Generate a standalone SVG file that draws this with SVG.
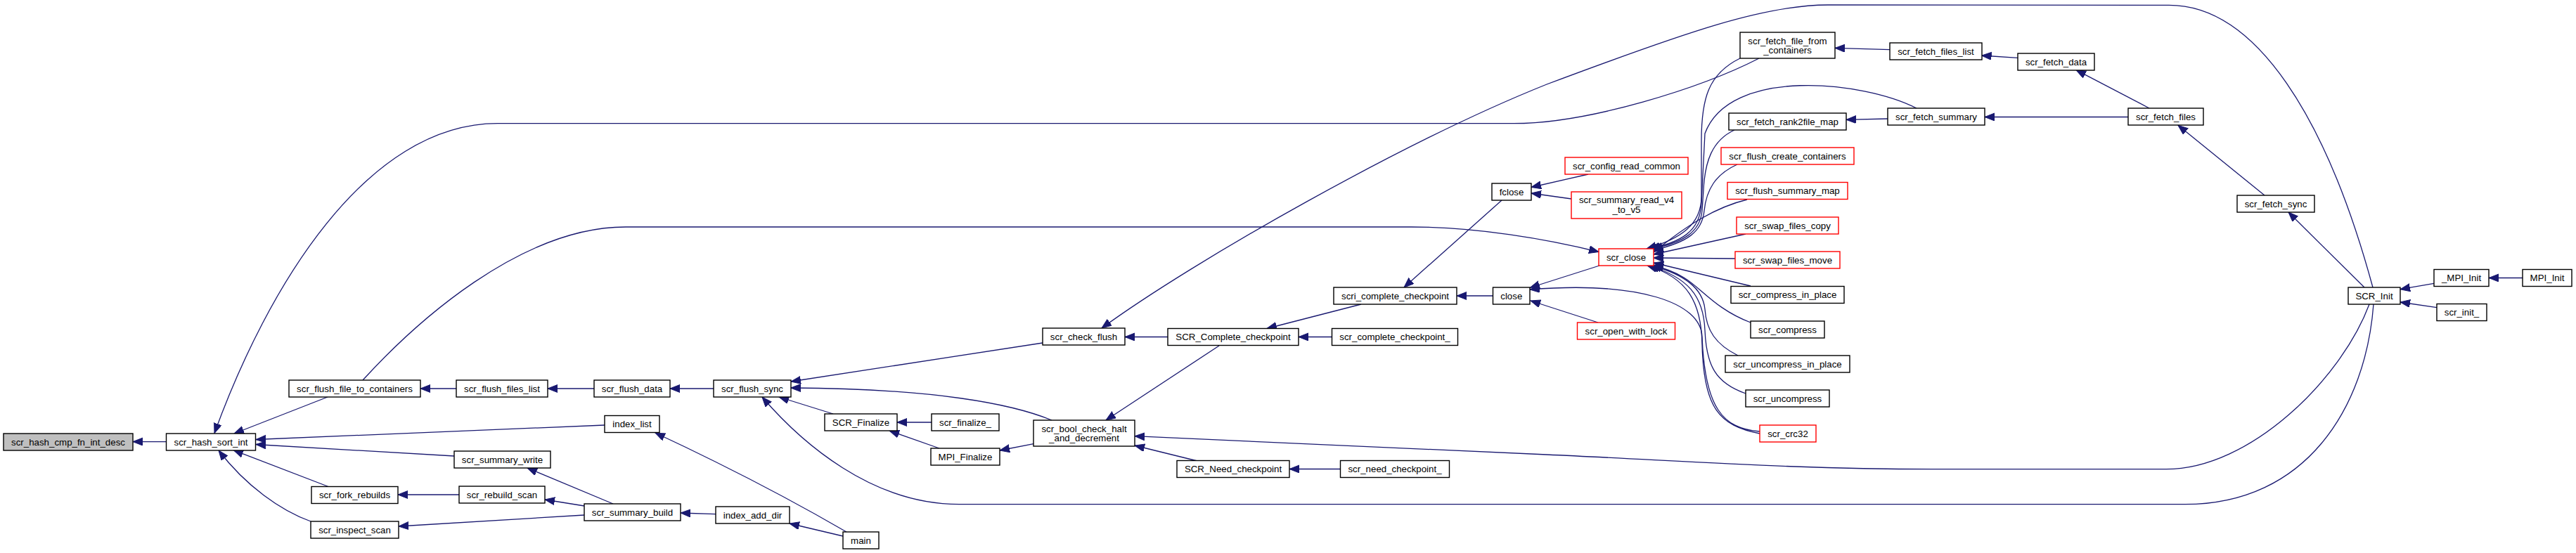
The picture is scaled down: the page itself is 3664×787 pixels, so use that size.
<svg xmlns="http://www.w3.org/2000/svg" width="3664" height="787" viewBox="0 0 3664 787">
<style>
.node rect{fill:#ffffff;stroke:#000000;stroke-width:1.4}
.node.red rect{stroke:#ff0000}
.node.hl rect{fill:#bfbfbf}
.node text{font-family:"Liberation Sans",Arial,Helvetica,sans-serif;font-size:13.3px;fill:#000000;text-anchor:middle}
.edges path{fill:none;stroke:#191970;stroke-width:1.3;marker-end:url(#arr)}
</style>
<defs>
<marker id="arr" markerUnits="userSpaceOnUse" markerWidth="15" markerHeight="12" refX="14" refY="5.5" orient="auto">
<path d="M0,0 L14,5.5 L0,11 z" fill="#191970" stroke="#191970" stroke-width="1"/>
</marker>
</defs>
<rect width="3664" height="787" fill="#ffffff"/>
<g class="edges">
<path d="M236.5,628.6 L189,628.6"/>
<path d="M2502,83 C2420,125 2260,175.7 2153,175.7 L708,175.7 C520,175.7 380,410 305,616.5"/>
<path d="M466,565 L333,617"/>
<path d="M860,605 L364,625.5"/>
<path d="M646,649 L364,632.5"/>
<path d="M467,692.5 L332,640.6"/>
<path d="M442,742 C400,727 350,692 311,641"/>
<path d="M649,553 L598,553"/>
<path d="M845,553 L779,553"/>
<path d="M1015,553 L953,553"/>
<path d="M1204,757 Q1080,685 932,616"/>
<path d="M872,717 L750,666"/>
<path d="M831,720 L775,711"/>
<path d="M653,704 L566,704"/>
<path d="M831,733 L567,749"/>
<path d="M1018,731.7 L968,730"/>
<path d="M1199,763 L1123,745"/>
<path d="M1483,488 L1125,543"/>
<path d="M1496,598 C1440,575 1330,553 1125,552"/>
<path d="M1185,589 L1108,565"/>
<path d="M3376,433 C3365,580 3280,717.7 3108,717.7 L1364,717.7 C1240,717.7 1140,630 1084,565"/>
<path d="M1325,601 L1276,601"/>
<path d="M1336,638 L1265,613"/>
<path d="M1470,631.7 L1422,641"/>
<path d="M1661,479.5 L1600,479.5"/>
<path d="M3375,409 C3310,170 3210,7.3 3085,7.3 L2600,7 C2510,7 2400,45 2200,120 C2000,200 1700,370 1567,467"/>
<path d="M1936,433 L1802,467.5"/>
<path d="M1894.5,479.5 L1847,479.5"/>
<path d="M1734,492 L1573,598"/>
<path d="M1703,656 L1614,634"/>
<path d="M3370,433 C3330,540 3200,667.7 3081,667.7 L2750,667.7 C2550,667.7 2400,656 2200,647 L1614,620.7"/>
<path d="M1906.5,667.5 L1834,667.5"/>
<path d="M2123.5,421 L2072,421"/>
<path d="M2136,285 L1997,409"/>
<path d="M2259,248 L2178,266.5"/>
<path d="M2235,283 L2178,275"/>
<path d="M2275,378 L2176,409.5"/>
<path d="M2503,614 C2450,610 2425,580 2421,480 C2420,430 2330,400 2176,412"/>
<path d="M2273,459 L2177,428"/>
<path d="M2475,83 C2430,105 2420,140 2420,200 L2420,280 C2420,320 2390,340 2342,354"/>
<path d="M2726,154 C2650,115 2460,95 2425,190 L2420,290 C2418,330 2390,345 2346,354"/>
<path d="M2467,185 C2435,200 2425,230 2423,270 L2421,300 C2418,330 2395,345 2350,354"/>
<path d="M2471,234 C2440,248 2427,270 2424,300 C2421,330 2400,345 2352,356"/>
<path d="M2485,284 C2440,295 2400,320 2352,359"/>
<path d="M2483,333 L2352,362"/>
<path d="M2468,368 L2352,367"/>
<path d="M2490,407 L2352,374"/>
<path d="M2490,459 C2440,440 2420,410 2395,395 C2380,386 2365,381 2352,378"/>
<path d="M2472,506 C2440,490 2427,470 2425,440 C2422,410 2395,390 2349,378"/>
<path d="M2483,560 C2440,545 2427,520 2425,470 C2423,420 2400,395 2346,378"/>
<path d="M2503,617 C2445,606 2423,580 2421,490 C2420,430 2400,395 2343,378"/>
<path d="M516,541 C590,460 740,323 890,323 L2007,323 C2100,323 2200,340 2274,358.5"/>
<path d="M2688,70.7 L2610,68.3"/>
<path d="M2870,82.3 L2818.6,79"/>
<path d="M2685,169 L2626,170.3"/>
<path d="M3027,166.5 L2823,166.5"/>
<path d="M3057,154 L2953,99.7"/>
<path d="M3221,278 L3098,178.3"/>
<path d="M3363,409 L3255,302"/>
<path d="M3462,403.3 L3414,411.7"/>
<path d="M3466,437.7 L3414,430"/>
<path d="M3588,395.5 L3540,395.5"/>
</g>
<g id="scr_hash_cmp_fn_int_desc" class="node hl"><rect x="5" y="617" width="184" height="24"/><text x="97" y="633.7">scr_hash_cmp_fn_int_desc</text></g>
<g id="scr_hash_sort_int" class="node"><rect x="236.5" y="617" width="127" height="24"/><text x="300" y="633.7">scr_hash_sort_int</text></g>
<g id="scr_flush_file_to_containers" class="node"><rect x="411" y="541" width="187" height="24"/><text x="504.5" y="557.7">scr_flush_file_to_containers</text></g>
<g id="scr_fork_rebuilds" class="node"><rect x="443" y="692.5" width="123" height="24"/><text x="504.5" y="709.2">scr_fork_rebuilds</text></g>
<g id="scr_inspect_scan" class="node"><rect x="442" y="742" width="125" height="24"/><text x="504.5" y="758.7">scr_inspect_scan</text></g>
<g id="scr_flush_files_list" class="node"><rect x="649" y="541" width="130" height="24"/><text x="714" y="557.7">scr_flush_files_list</text></g>
<g id="scr_flush_data" class="node"><rect x="845" y="541" width="108" height="24"/><text x="899" y="557.7">scr_flush_data</text></g>
<g id="index_list" class="node"><rect x="860" y="591.5" width="78" height="24"/><text x="899" y="608.2">index_list</text></g>
<g id="scr_summary_write" class="node"><rect x="646" y="642" width="137" height="24"/><text x="714.5" y="658.7">scr_summary_write</text></g>
<g id="scr_rebuild_scan" class="node"><rect x="653" y="692" width="122" height="24"/><text x="714" y="708.7">scr_rebuild_scan</text></g>
<g id="scr_summary_build" class="node"><rect x="831" y="717" width="137" height="24"/><text x="899.5" y="733.7">scr_summary_build</text></g>
<g id="scr_flush_sync" class="node"><rect x="1015" y="541" width="110" height="24"/><text x="1070" y="557.7">scr_flush_sync</text></g>
<g id="index_add_dir" class="node"><rect x="1018" y="721" width="105" height="24"/><text x="1070.5" y="737.7">index_add_dir</text></g>
<g id="main" class="node"><rect x="1199" y="757" width="51" height="24"/><text x="1224.5" y="773.7">main</text></g>
<g id="SCR_Finalize" class="node"><rect x="1173" y="589" width="103" height="24"/><text x="1224.5" y="605.7">SCR_Finalize</text></g>
<g id="scr_finalize_" class="node"><rect x="1325" y="589" width="96" height="24"/><text x="1373" y="605.7">scr_finalize_</text></g>
<g id="MPI_Finalize" class="node"><rect x="1324" y="638" width="98" height="24"/><text x="1373" y="654.7">MPI_Finalize</text></g>
<g id="scr_check_flush" class="node"><rect x="1483" y="467" width="117" height="24"/><text x="1541.5" y="483.7">scr_check_flush</text></g>
<g id="scr_bool_check_halt_and_decrement" class="node"><rect x="1470" y="598" width="144" height="37"/><text x="1542" y="615.4">scr_bool_check_halt</text><text x="1542" y="628.4">_and_decrement</text></g>
<g id="SCR_Complete_checkpoint" class="node"><rect x="1661" y="467.5" width="186" height="24"/><text x="1754" y="484.2">SCR_Complete_checkpoint</text></g>
<g id="scr_complete_checkpoint_" class="node"><rect x="1894.5" y="467.5" width="179" height="24"/><text x="1984" y="484.2">scr_complete_checkpoint_</text></g>
<g id="SCR_Need_checkpoint" class="node"><rect x="1674" y="655.5" width="160" height="24"/><text x="1754" y="672.2">SCR_Need_checkpoint</text></g>
<g id="scr_need_checkpoint_" class="node"><rect x="1906.5" y="655.5" width="155" height="24"/><text x="1984" y="672.2">scr_need_checkpoint_</text></g>
<g id="scri_complete_checkpoint" class="node"><rect x="1897" y="409" width="175" height="24"/><text x="1984.5" y="425.7">scri_complete_checkpoint</text></g>
<g id="close" class="node"><rect x="2123.5" y="409" width="52.5" height="24"/><text x="2149.8" y="425.7">close</text></g>
<g id="fclose" class="node"><rect x="2122" y="261" width="56" height="24"/><text x="2150" y="277.7">fclose</text></g>
<g id="scr_config_read_common" class="node red"><rect x="2226" y="224" width="175" height="24"/><text x="2313.5" y="240.7">scr_config_read_common</text></g>
<g id="scr_summary_read_v4_to_v5" class="node red"><rect x="2235" y="273" width="157" height="38"/><text x="2313.5" y="289.4">scr_summary_read_v4</text><text x="2313.5" y="303">_to_v5</text></g>
<g id="scr_close" class="node red"><rect x="2274" y="354" width="78" height="24"/><text x="2313" y="370.7">scr_close</text></g>
<g id="scr_open_with_lock" class="node red"><rect x="2243.5" y="459" width="139" height="24"/><text x="2313" y="475.7">scr_open_with_lock</text></g>
<g id="scr_fetch_file_from_containers" class="node"><rect x="2475" y="46" width="135" height="37"/><text x="2542.5" y="63.4">scr_fetch_file_from</text><text x="2542.5" y="76.4">_containers</text></g>
<g id="scr_fetch_rank2file_map" class="node"><rect x="2459" y="161" width="167" height="24"/><text x="2542.5" y="177.7">scr_fetch_rank2file_map</text></g>
<g id="scr_flush_create_containers" class="node red"><rect x="2448" y="210" width="189" height="24"/><text x="2542.5" y="226.7">scr_flush_create_containers</text></g>
<g id="scr_flush_summary_map" class="node red"><rect x="2457" y="259.5" width="171" height="24"/><text x="2542.5" y="276.2">scr_flush_summary_map</text></g>
<g id="scr_swap_files_copy" class="node red"><rect x="2470" y="309" width="145" height="24"/><text x="2542.5" y="325.7">scr_swap_files_copy</text></g>
<g id="scr_swap_files_move" class="node red"><rect x="2468" y="358" width="149" height="24"/><text x="2542.5" y="374.7">scr_swap_files_move</text></g>
<g id="scr_compress_in_place" class="node"><rect x="2462" y="407.5" width="161" height="24"/><text x="2542.5" y="424.2">scr_compress_in_place</text></g>
<g id="scr_compress" class="node"><rect x="2490" y="457" width="105" height="24"/><text x="2542.5" y="473.7">scr_compress</text></g>
<g id="scr_uncompress_in_place" class="node"><rect x="2454" y="506" width="177" height="24"/><text x="2542.5" y="522.7">scr_uncompress_in_place</text></g>
<g id="scr_uncompress" class="node"><rect x="2483" y="555" width="119" height="24"/><text x="2542.5" y="571.7">scr_uncompress</text></g>
<g id="scr_crc32" class="node red"><rect x="2503" y="605" width="80" height="24"/><text x="2543" y="621.7">scr_crc32</text></g>
<g id="scr_fetch_files_list" class="node"><rect x="2688" y="61" width="131" height="24"/><text x="2753.5" y="77.7">scr_fetch_files_list</text></g>
<g id="scr_fetch_summary" class="node"><rect x="2685" y="154" width="138" height="24"/><text x="2754" y="170.7">scr_fetch_summary</text></g>
<g id="scr_fetch_data" class="node"><rect x="2870" y="76" width="109" height="24"/><text x="2924.5" y="92.7">scr_fetch_data</text></g>
<g id="scr_fetch_files" class="node"><rect x="3027" y="154" width="107" height="24"/><text x="3080.5" y="170.7">scr_fetch_files</text></g>
<g id="scr_fetch_sync" class="node"><rect x="3182" y="278" width="110" height="24"/><text x="3237" y="294.7">scr_fetch_sync</text></g>
<g id="SCR_Init" class="node"><rect x="3340" y="409" width="74" height="24"/><text x="3377" y="425.7">SCR_Init</text></g>
<g id="_MPI_Init" class="node"><rect x="3462" y="383.5" width="78" height="24"/><text x="3501" y="400.2">_MPI_Init</text></g>
<g id="MPI_Init" class="node"><rect x="3588" y="383.5" width="70" height="24"/><text x="3623" y="400.2">MPI_Init</text></g>
<g id="scr_init_" class="node"><rect x="3466" y="432.5" width="71" height="24"/><text x="3501.5" y="449.2">scr_init_</text></g>
</svg>
